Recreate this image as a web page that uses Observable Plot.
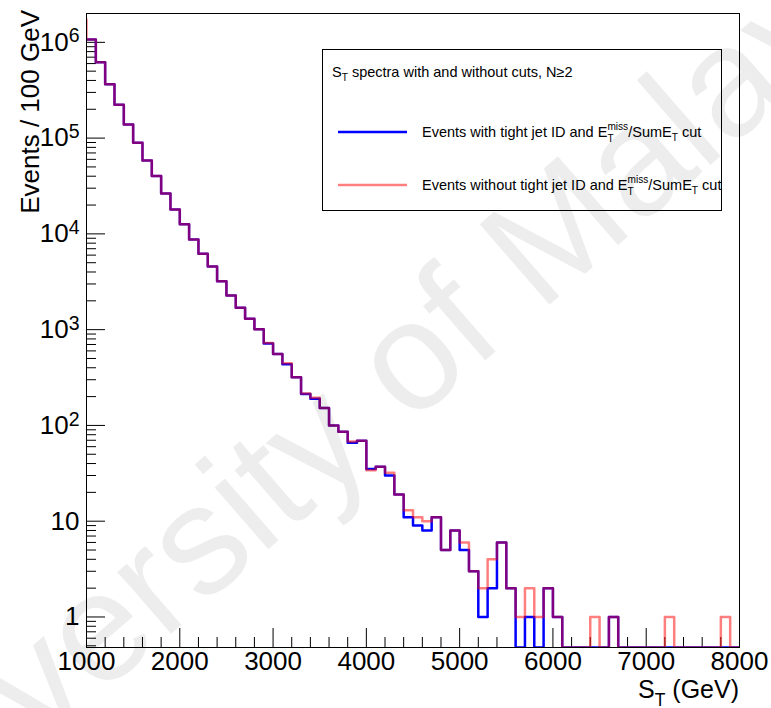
<!DOCTYPE html>
<html><head><meta charset="utf-8">
<script src="https://cdn.jsdelivr.net/npm/d3@7"></script>
<script src="https://cdn.jsdelivr.net/npm/@observablehq/plot@0.6"></script>
<style>
html,body{margin:0;padding:0;background:#fff;}
#wrap{position:relative;width:771px;height:708px;overflow:hidden;background:#fff;}
#wrap svg{position:absolute;left:0;top:0;}
</style></head><body><div id="wrap"></div>
<script>
// ---- data ----
const binLow = [1000,1100,1200,1300,1400,1500,1600,1700,1800,1900,
  2000,2100,2200,2300,2400,2500,2600,2700,2800,2900,
  3000,3100,3200,3300,3400,3500,3600,3700,3800,3900,
  4000,4100,4200,4300,4400,4500,4600,4700,4800,4900,
  5000,5100,5200,5300,5400,5500,5600,5700,5800,5900,
  6000,6100,6200,6300,6400,6500,6600,6700,6800,6900,
  7000,7100,7200,7300,7400,7500,7600,7700,7800,7900];
const binHigh = 8000;
const withCuts = [1070000,620000,366000,223000,139000,89500,58500,40100,26400,18000,
  12600,8730,6200,4560,3200,2270,1690,1300,1010,716,
  558,435,318,213,190,152,100,86,66,69,
  35,37,30,19,11,9,8,11,5,8,
  5,3,1,2,6,2,0,1,0,2,
  1,0,0,0,0,0,1,0,0,0,
  0,0,0,0,0,0,0,0,0,0];
const withoutCuts = [1070000,620000,366000,223000,139000,89500,58500,40100,26400,18000,
  12600,8730,6200,4560,3200,2270,1690,1300,1010,725,
  558,447,318,216,195,152,100,86,68,69,
  34,37,32,19,13,11,10,11,5,8,
  6,3,2,4,6,2,1,2,1,2,
  1,0,0,0,1,0,1,0,0,0,
  0,0,1,0,0,0,0,0,1,0];
const underflowBin = {x: 900, withoutCuts: 1730000};
const xTicks = [1000,2000,3000,4000,5000,6000,7000,8000];
const yTicks = [1,10,100,1000,10000,100000,1000000];
const yTickLabels = ["1","10","10^2","10^3","10^4","10^5","10^6"];
const seriesNames = ["Events with tight jet ID and E_T^miss/SumE_T cut",
                     "Events without tight jet ID and E_T^miss/SumE_T cut"];

// ---- layout / style ----
const W = 771, H = 708, mL = 86, mR = 32, mT = 13, mB = 61;
const frameW = W - mL - mR, frameH = H - mT - mB;
const yMin = 0.48, yMax = 2.0e6;
const FONT = "'Liberation Sans',Arial,Helvetica,sans-serif";
const BLUE = "#0000ff", RED = "#ff0000";

function stepPoints(vals, extraLeft) {
  const pts = [];
  if (extraLeft) pts.push({x: extraLeft.x, v: extraLeft.v});
  binLow.forEach((x, i) => pts.push({x, v: vals[i]}));
  pts.push({x: binHigh, v: vals[vals.length - 1]});
  return pts;
}
const bluePts = stepPoints(withCuts);
const redPts = stepPoints(withoutCuts, {x: underflowBin.x, v: underflowBin.withoutCuts});
const yOf = d => Math.max(d.v, yMin);

const xMinor = d3.range(1200, 8000, 200).filter(v => v % 1000 !== 0);
const yMinor = d3.range(-1, 7).flatMap(e => d3.range(2, 10).map(m => m * Math.pow(10, e)))
  .filter(v => v > yMin && v < yMax * 0.98);

const chart = Plot.plot({
  width: W, height: H,
  marginLeft: mL, marginRight: mR, marginTop: mT, marginBottom: mB,
  style: {fontFamily: FONT, fontSize: "26px", color: "black", background: "transparent"},
  x: {domain: [1000, 8000], ticks: xTicks, tickSize: 0, tickPadding: 4, tickFormat: d => String(d), label: null},
  y: {type: "log", domain: [yMin, yMax], ticks: yTicks, tickSize: 0, tickPadding: 7,
      tickFormat: d => yTickLabels[yTicks.indexOf(d)], label: null},
  marks: [
    Plot.ruleX(xMinor, {insetTop: frameH - 10, stroke: "black"}),
    Plot.ruleX(xTicks, {insetTop: frameH - 19, stroke: "black"}),
    Plot.ruleY(yMinor, {insetRight: frameW - 10, stroke: "black"}),
    Plot.ruleY(yTicks, {insetRight: frameW - 19, stroke: "black"}),
    Plot.line(bluePts, {x: "x", y: yOf, curve: "step-after", stroke: BLUE, strokeWidth: 2.5, clip: true}),
    Plot.line(redPts, {x: "x", y: yOf, curve: "step-after", stroke: RED, strokeOpacity: 0.5, strokeWidth: 2.5, clip: true}),
    Plot.frame({stroke: "black", strokeWidth: 1})
  ]
});
document.getElementById("wrap").appendChild(chart);

// superscripts on y tick labels
d3.select(chart).selectAll("text").each(function() {
  const m = /^10\^(\d)$/.exec(this.textContent);
  if (m) {
    this.textContent = "10";
    d3.select(this).append("tspan").attr("dy", "-0.42em").attr("font-size", "0.75em").text(m[1]);
  }
});

// ---- overlay: titles, legend, watermark ----
const ov = d3.select("#wrap").append("svg").attr("width", W).attr("height", H)
  .style("font-family", FONT).style("pointer-events", "none");

const nb = s => s.replace(/^ /, "\u00a0").replace(/ $/, "\u00a0");
// rich text helper: parts = [{t}, {sub}, {sup}, {stack:[sup, sub]}]
function rich(parent, x, y, size, parts, anchor) {
  const g = parent.append("g");
  let cx = 0;
  const put = (txt, fs, dy) => {
    const t = g.append("text").attr("x", cx).attr("y", dy).attr("font-size", fs).text(nb(txt));
    return t.node().getComputedTextLength();
  };
  for (const p of parts) {
    if (p.t != null) cx += put(p.t, size, 0);
    else if (p.sub != null) cx += put(p.sub, size * 0.7, size * 0.3);
    else if (p.sup != null) cx += put(p.sup, size * 0.7, -size * 0.45);
    else if (p.stack) {
      const w1 = put(p.stack[0], size * 0.7, -size * 0.5);
      const w2 = put(p.stack[1], size * 0.7, size * 0.35);
      cx += Math.max(w1, w2);
    }
  }
  const shift = anchor === "end" ? -cx : anchor === "middle" ? -cx / 2 : 0;
  g.attr("transform", `translate(${x + shift},${y})`);
  return g;
}
const label = s => {
  const m = /^(.*) and E_T\^miss\/SumE_T cut$/.exec(s);
  return [{t: m[1] + " and E"}, {stack: ["miss", "T"]}, {t: "/SumE"}, {sub: "T"}, {t: " cut"}];
};

// x title
rich(ov, W - mR, 698, 25, [{t: "S"}, {sub: "T"}, {t: " (GeV)"}], "end");
// y title
ov.append("text").attr("transform", "translate(30,10) rotate(-90)")
  .attr("text-anchor", "end").attr("dy", "0.35em").attr("font-size", 26).text("Events / 100 GeV");

// legend
const lg = ov.append("g");
lg.append("rect").attr("x", 322.5).attr("y", 49.5).attr("width", 399).attr("height", 161)
  .attr("fill", "white").attr("stroke", "black").attr("stroke-width", 1);
rich(lg, 332, 77, 14.5, [{t: "S"}, {sub: "T"}, {t: " spectra with and without cuts, N\u22652"}]);
lg.append("line").attr("x1", 338).attr("x2", 407).attr("y1", 132).attr("y2", 132)
  .attr("stroke", BLUE).attr("stroke-width", 2.5);
rich(lg, 422, 137, 14.5, label(seriesNames[0]));
lg.append("line").attr("x1", 338).attr("x2", 407).attr("y1", 185).attr("y2", 185)
  .attr("stroke", RED).attr("stroke-opacity", 0.5).attr("stroke-width", 2.5);
rich(lg, 422, 190, 14.5, label(seriesNames[1]));

// watermark
ov.append("text").attr("transform", "translate(355,402) rotate(-41)")
  .attr("text-anchor", "middle").attr("dy", "0.35em")
  .attr("font-size", 155)
  .attr("fill", "black").attr("fill-opacity", 0.07).text("University of Malaya");
</script></body></html>
